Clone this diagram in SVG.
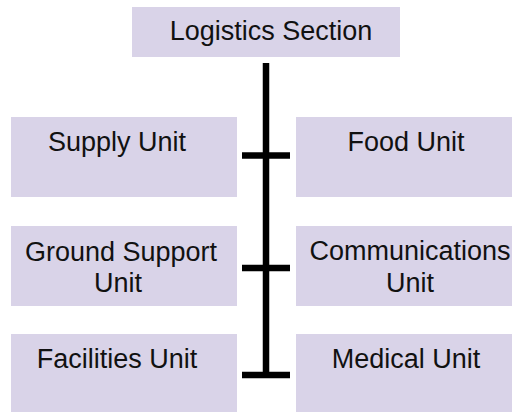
<svg xmlns="http://www.w3.org/2000/svg" width="512" height="412" viewBox="0 0 512 412">
<style>
.box{fill:#d9d3e8;}
.lbl{font-family:"Liberation Sans",Arial,sans-serif;font-size:27px;fill:#111;text-anchor:middle;}
.con{stroke:#000;stroke-width:6.5;fill:none;}
</style>
<rect width="512" height="412" fill="#fff"/>
<g id="connectors">
<line class="con" x1="266" y1="63" x2="266" y2="378"/>
<line class="con" x1="242" y1="155.5" x2="290" y2="155.5"/>
<line class="con" x1="242" y1="268" x2="290" y2="268"/>
<line class="con" x1="242" y1="375" x2="290" y2="375"/>
</g>
<g id="logistics-section">
<rect class="box" x="132" y="7" width="268" height="50"/>
<text class="lbl" x="271" y="40">Logistics Section</text>
</g>
<g id="supply-unit">
<rect class="box" x="11" y="117" width="226" height="80"/>
<text class="lbl" x="117" y="151">Supply Unit</text>
</g>
<g id="food-unit">
<rect class="box" x="296" y="117" width="226" height="80"/>
<text class="lbl" x="406" y="151">Food Unit</text>
</g>
<g id="ground-support-unit">
<rect class="box" x="11" y="226" width="226" height="80"/>
<text class="lbl"><tspan x="121" y="261">Ground Support</tspan><tspan x="118" y="292">Unit</tspan></text>
</g>
<g id="communications-unit">
<rect class="box" x="296" y="226" width="226" height="80"/>
<text class="lbl"><tspan x="410" y="260">Communications</tspan><tspan x="410" y="292">Unit</tspan></text>
</g>
<g id="facilities-unit">
<rect class="box" x="11" y="334" width="226" height="80"/>
<text class="lbl" x="117" y="368">Facilities Unit</text>
</g>
<g id="medical-unit">
<rect class="box" x="296" y="334" width="226" height="80"/>
<text class="lbl" x="406" y="368">Medical Unit</text>
</g>
</svg>
